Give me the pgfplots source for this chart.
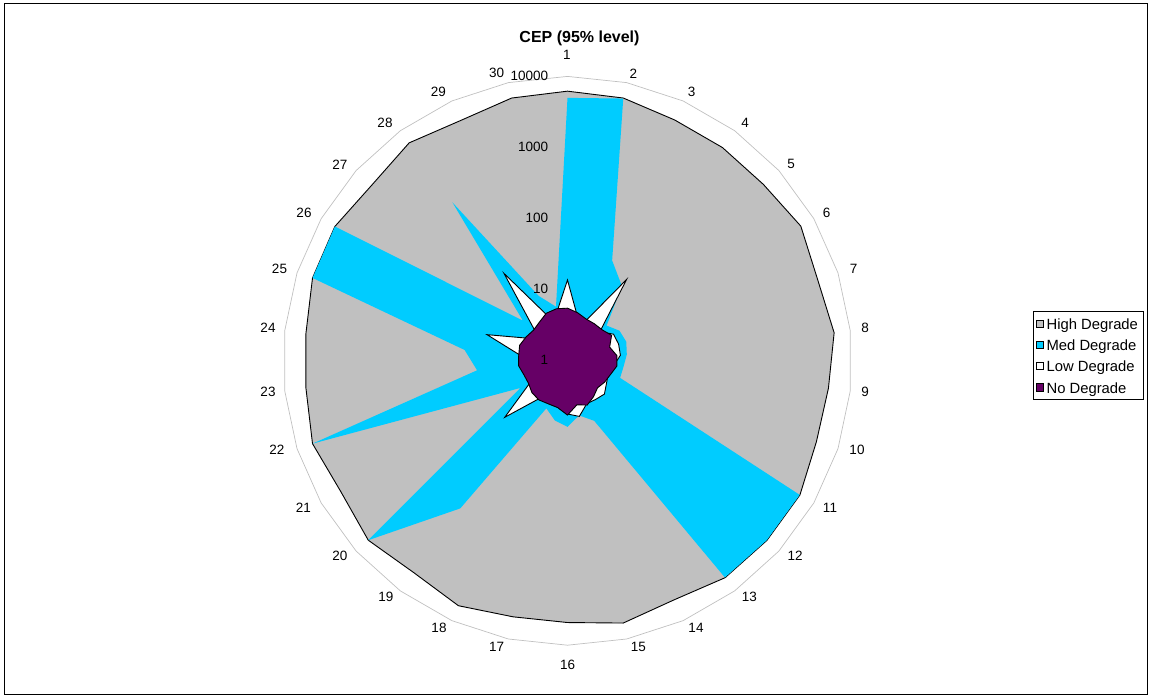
\documentclass[border=0pt]{standalone}
\usepackage{fontspec}
\setmainfont{Liberation Sans}
\usepackage{pgfplots}
\usepackage{pgfplotstable}
\pgfplotsset{compat=1.18}
\definecolor{hdgray}{RGB}{192,192,192}
\definecolor{mdcyan}{RGB}{0,204,255}
\definecolor{nopurple}{RGB}{102,0,102}
\definecolor{gridgray}{RGB}{192,192,192}
\newcommand{\lbl}{\fontsize{13.5bp}{15bp}\selectfont}
\newcommand{\lgd}{\fontsize{14.8bp}{16bp}\selectfont}
% place a text label at a pixel position of the 1151x698 picture (centre 567.5,360.8; 71.1 px per decade)
\newcommand{\clab}[3]{\node[font=\lbl, inner sep=0pt] at (axis cs:{(#1-567.5)/71.1},{(360.8-#2)/71.1}) {#3};}

% CEP (95% level) for categories 1..30 (radial axis logarithmic, 1 .. 10000)
\pgfplotstableread{
k  high  med   low   no
1  6200  4990  13.7  5.5
2  6000  5900  4.5   4.9
3  5100  35    4.0   4.4
4  5100  20    26    4.4
5  5100  5.5   4.1   4.5
6  6150  7.0   5.6   5.2
7  5000  7.4   5.7   4.2
8  5900  6.9   5.6   5.0
9  4900  6.2   4.5   5.0
10 4800  6.0   4.0   4.3
11 5950  5900  4.3   4.0
12 5950  5900  5.0   3.7
13 5900  5850  4.7   4.2
14 4800  8.4   4.6   4.8
15 5900  6.1   6.3   4.3
16 4800  8.5   5.6   5.8
17 4800  7.2   4.3   4.7
18 5900  5.4   4.2   4.6
19 4800  368   4.4   4.8
20 5900  5900  15.4  4.7
21 4800  5.8   4.0   4.3
22 5900  5900  4.0   4.4
23 5000  19    4.5   4.9
24 5000  28.5  4.5   4.9
25 5900  5900  15.5  5.1
26 6000  6000  4.3   4.7
27 5000  7.0   4.0   4.4
28 6150  567   33    4.7
29 5000  10    5.0   5.4
30 6000  6.0   5.1   5.6
}\cep

\begin{document}
\begin{tikzpicture}
\begin{axis}[
  x=71.1bp, y=71.1bp,
  xmin=-7.9817, xmax=8.2068, ymin=-4.7426, ymax=5.0746,
  hide axis, clip=false,
  legend cell align=left,
  legend image code/.code={\draw[#1] (0bp,-3.65bp) rectangle (7.3bp,3.65bp);},
  legend style={at={(axis cs:6.543,0.700)}, anchor=north west,
    draw=black, line width=0.7bp, fill=white,
    inner xsep=3bp, inner ysep=3.5bp, row sep=3.8bp,
    nodes={inner xsep=2.4bp, inner ysep=0pt, text height=14.5bp, text depth=3bp, font=\lgd}},
]
\path (rel axis cs:0,0) rectangle (rel axis cs:1,1);
% outer gridline (10000)
\addplot[draw=gridgray, line width=0.7bp, forget plot]
  table[x expr={4*cos(90-12*(\thisrow{k}-1))}, y expr={4*sin(90-12*(\thisrow{k}-1))}] {\cep} -- cycle;
\addplot[fill=hdgray, draw=black, line width=0.9bp]
  table[x expr={ln(\thisrow{high})/ln(10)*cos(90-12*(\thisrow{k}-1))},
        y expr={ln(\thisrow{high})/ln(10)*sin(90-12*(\thisrow{k}-1))}] {\cep} -- cycle;
\addlegendentry{High Degrade}
\addplot[fill=mdcyan, draw=none]
  table[x expr={ln(\thisrow{med})/ln(10)*cos(90-12*(\thisrow{k}-1))},
        y expr={ln(\thisrow{med})/ln(10)*sin(90-12*(\thisrow{k}-1))}] {\cep} -- cycle;
\addlegendentry{Med Degrade}
\addplot[fill=white, draw=black, line width=0.9bp]
  table[x expr={ln(\thisrow{low})/ln(10)*cos(90-12*(\thisrow{k}-1))},
        y expr={ln(\thisrow{low})/ln(10)*sin(90-12*(\thisrow{k}-1))}] {\cep} -- cycle;
\addlegendentry{Low Degrade}
\addplot[fill=nopurple, draw=black, line width=0.9bp]
  table[x expr={ln(\thisrow{no})/ln(10)*cos(90-12*(\thisrow{k}-1))},
        y expr={ln(\thisrow{no})/ln(10)*sin(90-12*(\thisrow{k}-1))}] {\cep} -- cycle;
\addlegendentry{No Degrade}
% category labels
\clab{567}{55}{1}
\clab{633.3}{73.3}{2}
\clab{691.7}{92.3}{3}
\clab{745}{123.3}{4}
\clab{791}{164.3}{5}
\clab{826.7}{213.3}{6}
\clab{853.5}{269}{7}
\clab{865}{328}{8}
\clab{865}{392}{9}
\clab{857}{450}{10}
\clab{830}{507.7}{11}
\clab{795}{556}{12}
\clab{749.3}{597.3}{13}
\clab{696}{628.3}{14}
\clab{638.3}{647.3}{15}
\clab{567.7}{665}{16}
\clab{496.7}{647.3}{17}
\clab{439}{628.3}{18}
\clab{386}{597.3}{19}
\clab{340}{556}{20}
\clab{303.3}{507.7}{21}
\clab{277}{450}{22}
\clab{268}{392}{23}
\clab{268}{328}{24}
\clab{279.5}{269}{25}
\clab{304}{213.3}{26}
\clab{340}{164.3}{27}
\clab{385}{123.3}{28}
\clab{438.3}{92.3}{29}
\clab{496.7}{73.3}{30}
% radial tick labels
\node[anchor=east, font=\lbl, inner sep=0pt] at (axis cs:-0.27,0.01) {1};
\node[anchor=east, font=\lbl, inner sep=0pt] at (axis cs:-0.27,1.01) {10};
\node[anchor=east, font=\lbl, inner sep=0pt] at (axis cs:-0.27,2.01) {100};
\node[anchor=east, font=\lbl, inner sep=0pt] at (axis cs:-0.27,3.01) {1000};
\node[anchor=east, font=\lbl, inner sep=0pt] at (axis cs:-0.27,4.01) {10000};
% title
\node[font=\fontsize{16bp}{18bp}\selectfont\bfseries, inner sep=0pt] at (axis cs:{(579.5-567.5)/71.1},{(360.8-38.5)/71.1}) {CEP (95\% level)};
% chart frame
\draw[black, line width=0.8bp] (axis cs:{(4.5-567.5)/71.1},{(360.8-3.5)/71.1}) rectangle (axis cs:{(1147.5-567.5)/71.1},{(360.8-694.5)/71.1});
\end{axis}
\end{tikzpicture}
\end{document}
